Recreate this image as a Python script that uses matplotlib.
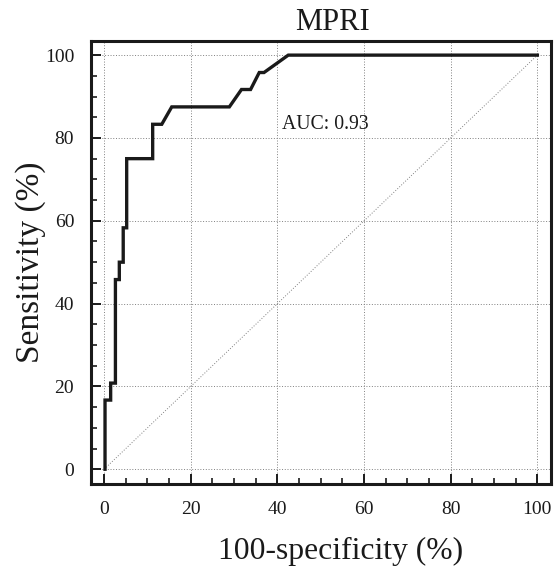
#!/usr/bin/env python3
"""ROC curve for MPRI (sensitivity vs 100-specificity)."""

import matplotlib

matplotlib.use("Agg")

import matplotlib.pyplot as plt
from matplotlib.ticker import MultipleLocator

# ROC step points, in %
fpr = [0.2, 0.2, 1.5, 1.5, 2.6, 2.6, 3.5, 3.5, 4.4, 4.4, 5.2, 5.2,
       11.2, 11.2, 13.3, 15.6, 28.9, 31.7, 33.8, 35.8, 36.9, 42.5, 100.0]
tpr = [0.0, 16.7, 16.7, 20.8, 20.8, 45.8, 45.8, 50.0, 50.0, 58.3, 58.3, 75.0,
       75.0, 83.3, 83.3, 87.5, 87.5, 91.7, 91.7, 95.8, 95.8, 100.0, 100.0]
auc = 0.93
title = "MPRI"

INK = "#1a1a1a"
GRID = "#808080"
SERIF = ["Liberation Serif", "DejaVu Serif"]

plt.rcParams["font.family"] = SERIF

fig = plt.figure(figsize=(5.54, 5.68), dpi=100, facecolor="white")
ax = fig.add_axes([0.164, 0.148, 0.831, 0.779])

ax.plot([0, 100], [0, 100], ls=(0, (1, 1.8)), lw=0.7, color=GRID, zorder=1)
ax.plot(fpr, tpr, color=INK, lw=2.4, solid_joinstyle="miter", zorder=3)

ax.set_xlim(-3.07, 103.2)
ax.set_ylim(-3.55, 103.3)
ax.xaxis.set_major_locator(MultipleLocator(20))
ax.xaxis.set_minor_locator(MultipleLocator(5))
ax.yaxis.set_major_locator(MultipleLocator(20))
ax.yaxis.set_minor_locator(MultipleLocator(5))
ax.grid(which="major", ls=(0, (1, 1.8)), lw=0.7, color=GRID, zorder=0)

ax.tick_params(which="major", direction="in", length=7, width=1.4, color=INK,
               labelsize=14, pad=12, labelcolor=INK)
ax.tick_params(which="minor", direction="in", length=4, width=1.2, color=INK)
for spine in ax.spines.values():
    spine.set_linewidth(2.2)
    spine.set_color(INK)

ax.text(41, 82.1, f"AUC: {auc:.2f}", fontsize=14.2, color=INK,
        ha="left", va="baseline")

ax.set_title(title, fontsize=22, color=INK, pad=8, x=0.525)
ax.set_xlabel("100-specificity (%)", fontsize=22.8, color=INK, labelpad=14,
              x=0.543)
ax.set_ylabel("Sensitivity (%)", fontsize=24, color=INK, labelpad=-1)

fig.savefig("out.png", dpi=100, facecolor="white")
